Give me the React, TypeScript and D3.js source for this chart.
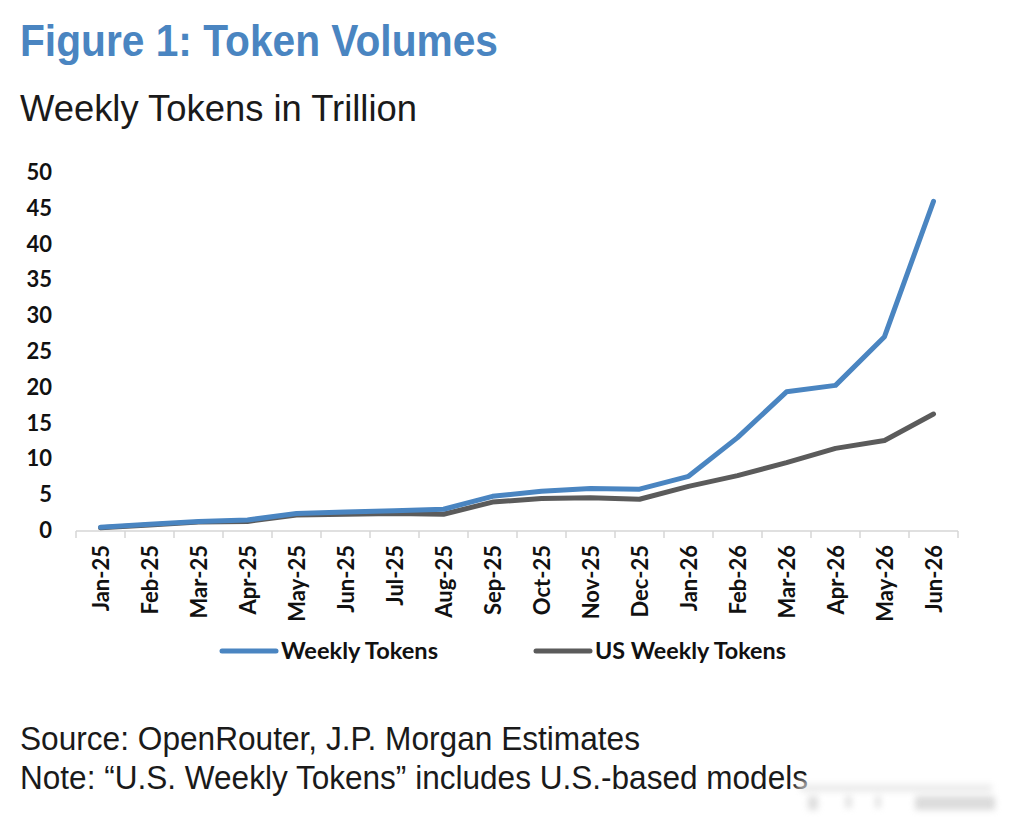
import React from "react";
import * as d3 from "d3";

// monthly points, Jan-25 through Jun-26
const months = [
  "Jan-25", "Feb-25", "Mar-25", "Apr-25", "May-25", "Jun-25", "Jul-25", "Aug-25", "Sep-25",
  "Oct-25", "Nov-25", "Dec-25", "Jan-26", "Feb-26", "Mar-26", "Apr-26", "May-26", "Jun-26",
];
const weeklyTokens = [0.4, 0.8, 1.2, 1.4, 2.3, 2.5, 2.7, 2.9, 4.7, 5.4, 5.8, 5.7, 7.5, 12.9, 19.3, 20.2, 27.0, 45.9];
const usWeeklyTokens = [0.3, 0.7, 1.1, 1.2, 2.1, 2.2, 2.3, 2.2, 3.9, 4.4, 4.5, 4.3, 6.1, 7.6, 9.4, 11.4, 12.5, 16.2];
const yTicks = [0, 5, 10, 15, 20, 25, 30, 35, 40, 45, 50];
const seriesNames = ["Weekly Tokens", "US Weekly Tokens"];

const BLUE = "#4a85c1";
const GREY = "#5b5b5b";
const labelFont = "Lato, 'Open Sans', sans-serif";
const textFont = "'Liberation Sans', Arial, sans-serif";

export default function App() {
  const W = 1010;
  const H = 821;

  const x = d3.scaleBand<string>().domain(months).range([76, 958]);
  const y = d3.scaleLinear().domain([0, 50]).range([530, 172]);
  const cx = (i: number) => (x(months[i]) as number) + x.bandwidth() / 2;

  const line = d3
    .line<number>()
    .x((_, i) => cx(i))
    .y((d) => y(d));

  const axisY = 531;
  const boundaries = months.map((m) => x(m) as number).concat([958]);

  return (
    <svg
      width={W}
      height={H}
      style={{ position: "absolute", left: 0, top: 0, background: "#fff" }}
    >
      <defs>
        <filter id="soft" x="-10%" y="-50%" width="120%" height="200%">
          <feGaussianBlur stdDeviation="3" />
        </filter>
      </defs>
      <rect width={W} height={H} fill="#fff" />

      {/* headings */}
      <text x={20} y={56} fontFamily={textFont} fontWeight={700} fontSize={44} fill={BLUE}
        textLength={478} lengthAdjust="spacingAndGlyphs">
        Figure 1: Token Volumes
      </text>
      <text x={20} y={121} fontFamily={textFont} fontSize={37} fill="#1a1a1a"
        textLength={397} lengthAdjust="spacingAndGlyphs">
        Weekly Tokens in Trillion
      </text>

      {/* y tick labels */}
      {yTicks.map((t) => (
        <text key={t} x={52} y={y(t)} dy="0.36em" textAnchor="end"
          fontFamily={labelFont} fontWeight={700} fontSize={22} fill="#111">
          {t}
        </text>
      ))}

      {/* x axis */}
      <line x1={76} x2={958} y1={axisY} y2={axisY} stroke="#d6d6d6" strokeWidth={1.5} />
      {boundaries.map((bx, i) => (
        <line key={i} x1={bx} x2={bx} y1={axisY} y2={axisY + 7} stroke="#d6d6d6" strokeWidth={1.5} />
      ))}
      {months.map((m, i) => (
        <text key={m} transform={`translate(${cx(i) + 8},545) rotate(-90)`} textAnchor="end"
          fontFamily={labelFont} fontWeight={700} fontSize={22} fill="#111">
          {m}
        </text>
      ))}

      {/* series */}
      <path d={line(usWeeklyTokens) ?? ""} fill="none" stroke={GREY} strokeWidth={5}
        strokeLinejoin="round" strokeLinecap="round" />
      <path d={line(weeklyTokens) ?? ""} fill="none" stroke={BLUE} strokeWidth={5}
        strokeLinejoin="round" strokeLinecap="round" />

      {/* legend */}
      <line x1={222} x2={276} y1={651} y2={651} stroke={BLUE} strokeWidth={5} strokeLinecap="round" />
      <text x={281} y={659} fontFamily={labelFont} fontWeight={700} fontSize={22} fill="#111"
        textLength={157} lengthAdjust="spacingAndGlyphs">
        {seriesNames[0]}
      </text>
      <line x1={536} x2={590} y1={651} y2={651} stroke={GREY} strokeWidth={5} strokeLinecap="round" />
      <text x={595} y={659} fontFamily={labelFont} fontWeight={700} fontSize={22} fill="#111"
        textLength={191} lengthAdjust="spacingAndGlyphs">
        {seriesNames[1]}
      </text>

      {/* footnotes */}
      <text x={20} y={750} fontFamily={textFont} fontSize={34} fill="#1a1a1a"
        textLength={620} lengthAdjust="spacingAndGlyphs">
        Source: OpenRouter, J.P. Morgan Estimates
      </text>
      <text x={20} y={789} fontFamily={textFont} fontSize={34} fill="#1a1a1a"
        textLength={788} lengthAdjust="spacingAndGlyphs">
        Note: “U.S. Weekly Tokens” includes U.S.-based models
      </text>

      {/* faint stamp over the corner */}
      <g filter="url(#soft)" opacity={0.6}>
        <rect x={797} y={780} width={205} height={14} fill="#fff" />
        <rect x={800} y={784} width={192} height={8} fill="#c8c8c8" opacity={0.6} />
        <rect x={808} y={796} width={10} height={14} fill="#c9c9c9" />
        <rect x={845} y={796} width={7} height={12} fill="#d2d2d2" />
        <rect x={875} y={796} width={6} height={12} fill="#d2d2d2" />
        <rect x={915} y={796} width={80} height={14} fill="#c4c4c4" />
      </g>
    </svg>
  );
}
